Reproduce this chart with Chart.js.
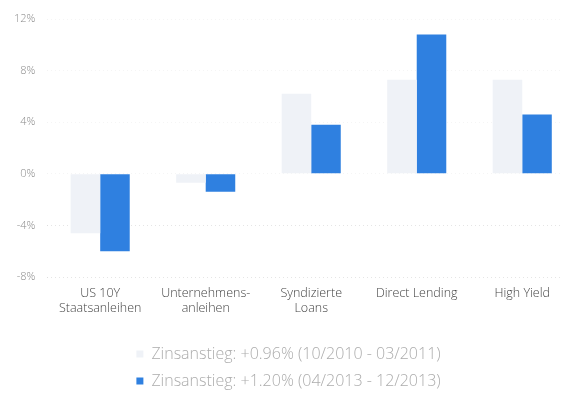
<!DOCTYPE html>
<html>
<head>
<meta charset="utf-8">
<script src="https://cdn.jsdelivr.net/npm/chart.js@4"></script>
<style>
  html, body { margin: 0; padding: 0; background: #fff; overflow: hidden; }
  #wrap { width: 575px; height: 399px; position: relative; }
</style>
</head>
<body>
<div id="wrap"><canvas id="zinsChart"></canvas></div>
<script>
// Kategorien und Werte (in %)
var categories = [
    ['US 10Y', 'Staatsanleihen'],
    ['Unternehmens-', 'anleihen'],
    ['Syndizierte', 'Loans'],
    'Direct Lending',
    'High Yield'
];
var label2010 = 'Zinsanstieg: +0.96% (10/2010 - 03/2011)';
var label2013 = 'Zinsanstieg: +1.20% (04/2013 - 12/2013)';
var values2010 = [-4.6, -0.7, 6.2, 7.3, 7.3];
var values2013 = [-6.0, -1.4, 3.8, 10.8, 4.6];
var yTicks = [-8, -4, 0, 4, 8, 12];

Chart.defaults.font.family = '"Open Sans", Lato, sans-serif';
Chart.defaults.font.weight = 300;
Chart.defaults.color = '#8a8a8a';

// Legende untereinander statt nebeneinander
var legendRows = {
    id: 'legendRows',
    afterInit: function(chart) {
        var lg = chart.legend;
        var orig = lg._fitRows;
        lg._fitRows = function() {
            var mw = this.maxWidth;
            this.maxWidth = 400;
            var r = orig.apply(this, arguments);
            this.maxWidth = mw;
            return r;
        };
    }
};

var ctx = document.getElementById('zinsChart');
var myChart = new Chart(ctx, {
    type: 'bar',
    data: {
        labels: categories,
        datasets: [{
            label: label2010,
            backgroundColor: '#eff2f7',
            data: values2010
        }, {
            label: label2013,
            backgroundColor: '#2f80e0',
            data: values2013
        }]
    },
    options: {
        responsive: true,
        maintainAspectRatio: false,
        animation: false,
        layout: { padding: { left: 2, top: 19, right: 0, bottom: 0 } },
        datasets: {
            bar: { barPercentage: 1.0, categoryPercentage: 0.56 }
        },
        scales: {
            x: {
                grid: { display: false },
                border: { display: false },
                ticks: { color: '#444', font: { size: 12.5 }, maxRotation: 0, padding: 1 },
                afterFit: function(axis) { axis.height += 18; }
            },
            y: {
                min: -8,
                max: 12,
                afterBuildTicks: function(axis) {
                    axis.ticks = yTicks.map(function(v) { return { value: v }; });
                },
                border: { display: false, dash: [1, 3] },
                grid: {
                    color: function(c) {
                        return c.tick && c.tick.value < 0 ? 'rgba(0,0,0,0.1)' : 'rgba(0,0,0,0.04)';
                    },
                    tickLength: 0
                },
                ticks: {
                    color: '#8a8a8a',
                    font: { size: 11 },
                    padding: 12,
                    callback: function(value) { return value + '%'; }
                }
            }
        },
        plugins: {
            legend: {
                position: 'bottom',
                labels: {
                    boxWidth: 7,
                    boxHeight: 7,
                    padding: 11,
                    color: '#acacac',
                    font: { size: 16 }
                }
            },
            tooltip: { enabled: false }
        }
    },
    plugins: [legendRows]
});
</script>
</body>
</html>
